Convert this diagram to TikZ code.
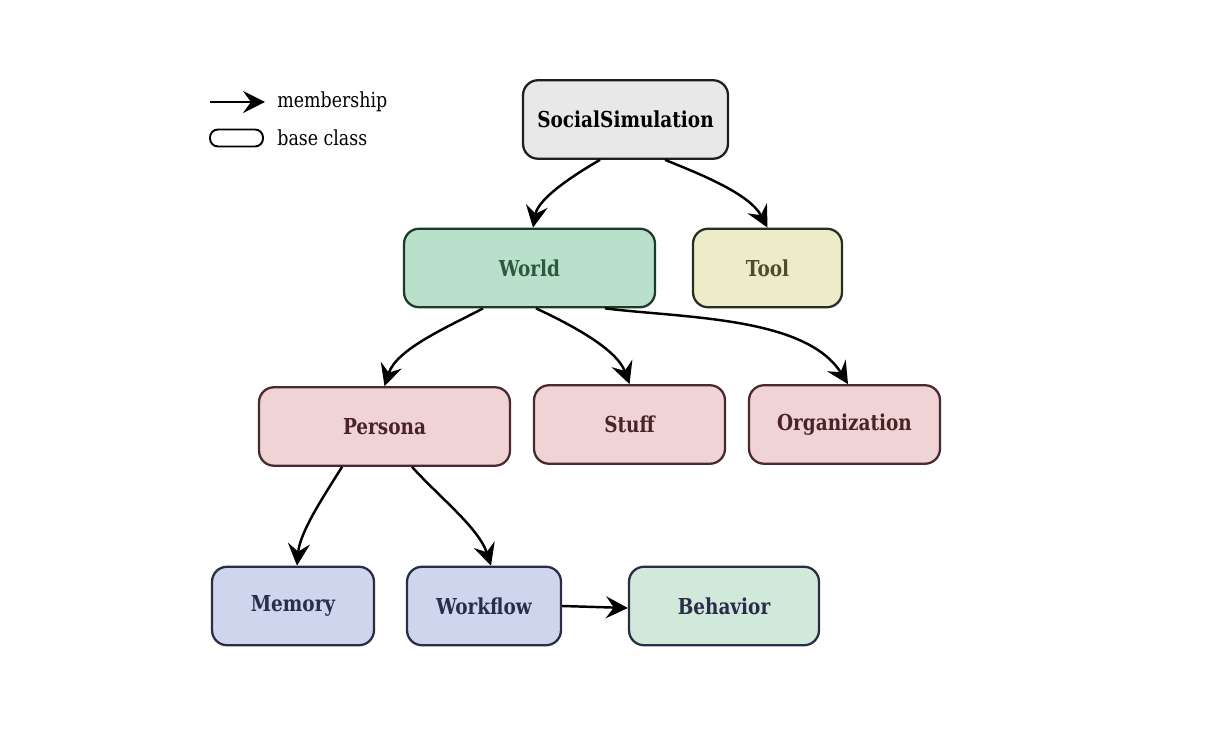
\documentclass[tikz,border=0pt]{standalone}
\usepackage{fontspec}
\usepackage{tikz}
\usetikzlibrary{arrows.meta}
\newfontfamily\slabfont{DejaVu Serif}[FakeStretch=0.84]

\definecolor{socfill}{HTML}{E8E8E8}
\definecolor{socdraw}{HTML}{1E1E1E}
\definecolor{worldfill}{HTML}{B9E0CB}
\definecolor{worlddraw}{HTML}{1E3B2A}
\definecolor{worldtext}{HTML}{2D5A3C}
\definecolor{toolfill}{HTML}{EDEBC8}
\definecolor{tooldraw}{HTML}{2A2E1E}
\definecolor{tooltext}{HTML}{4D4D2A}
\definecolor{persfill}{HTML}{F0D3D5}
\definecolor{persdraw}{HTML}{4A2A2E}
\definecolor{perstext}{HTML}{4A2326}
\definecolor{memfill}{HTML}{D0D5EE}
\definecolor{memdraw}{HTML}{2A2E44}
\definecolor{memtext}{HTML}{2A2D4A}
\definecolor{behfill}{HTML}{D1E9DB}

\begin{document}
\begin{tikzpicture}[x=0.02cm, y=0.02cm]
\tikzstyle{box}=[rounded corners=0.3cm, line width=1.3pt, inner sep=0pt,
  minimum height=1.57cm, font=\slabfont\bfseries\fontsize{12.5}{14}\selectfont]
\tikzstyle{arrow}=[line width=1.4pt, -{Stealth[length=12.5pt, width=12.5pt, inset=4.5pt]}]
\tikzstyle{legend}=[anchor=west, inner sep=0pt, font=\slabfont\fontsize{11.8}{13}\selectfont]
\useasboundingbox (0,0) rectangle (1212,729);
% legend
\coordinate (La) at (210,627);
\coordinate (Lb) at (265,627);
\draw [arrow] (La) -- (Lb);
\node (Lm) [legend] at (277,627) {membership};
\node (Lr) [draw, line width=1.1pt, rounded corners=0.16cm, minimum width=1.06cm, minimum height=0.34cm, inner sep=0pt] at (236.5,591) {};
\node (Lc) [legend] at (277,591) {base class};
% class boxes
\node (soc) [box, fill=socfill, draw=socdraw, text=black, minimum width=4.1cm] at (625.5,609.5) {SocialSimulation};
\node (world) [box, fill=worldfill, draw=worlddraw, text=worldtext, minimum width=5.02cm] at (529.5,461) {World};
\node (tool) [box, fill=toolfill, draw=tooldraw, text=tooltext, minimum width=2.98cm] at (767.5,461) {Tool};
\node (pers) [box, fill=persfill, draw=persdraw, text=perstext, minimum width=5.02cm] at (384.5,302.5) {Persona};
\node (stuff) [box, fill=persfill, draw=persdraw, text=perstext, minimum width=3.82cm] at (629.5,304.5) {Stuff};
\node (org) [box, fill=persfill, draw=persdraw, text=perstext, minimum width=3.82cm] at (844.5,304.5) {Organization};
\node (mem) [box, fill=memfill, draw=memdraw, text=memtext, minimum width=3.24cm] at (293,123) {Memory};
\node (flow) [box, fill=memfill, draw=memdraw, text=memtext, minimum width=3.08cm] at (484,123) {Workflow};
\node (beh) [box, fill=behfill, draw=memdraw, text=memtext, minimum width=3.8cm] at (724,123) {Behavior};
% membership arrows
\draw [arrow] ([xshift=-0.51cm]soc.south) to[out=210, in=80, looseness=0.8] ([xshift=0.07cm]world.north);
\draw [arrow] ([xshift=0.79cm]soc.south) to[out=-22, in=118, looseness=0.8] (tool.north);
\draw [arrow] ([xshift=-0.93cm]world.south) to[out=208, in=72, looseness=0.8] (pers.north);
\draw [arrow] ([xshift=0.13cm]world.south) to[out=-25, in=110, looseness=0.8] (stuff.north);
\draw [arrow] ([xshift=1.51cm]world.south) to[out=-7, in=122, looseness=0.8] ([xshift=0.07cm]org.north);
\draw [arrow] ([xshift=-0.85cm]pers.south) to[out=-122, in=85, looseness=0.8] ([xshift=0.08cm]mem.north);
\draw [arrow] ([xshift=0.55cm]pers.south) to[out=-48, in=108, looseness=0.8] ([xshift=0.14cm]flow.north);
\draw [arrow] (flow.east) -- ([yshift=-0.04cm]beh.west);
\end{tikzpicture}
\end{document}
